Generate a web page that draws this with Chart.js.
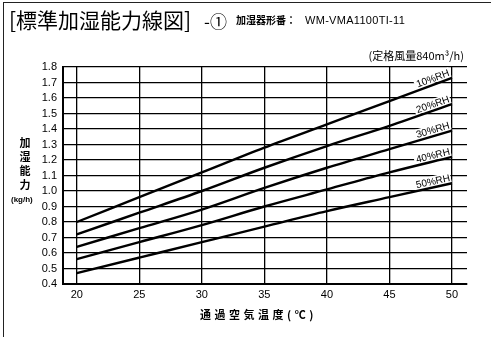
<!DOCTYPE html>
<html>
<head>
<meta charset="utf-8">
<script src="https://cdn.jsdelivr.net/npm/chart.js"></script>
<style>
  body { margin: 0; background: #fff; }
  #wrap { position: relative; width: 491px; height: 337px; overflow: hidden; font-family: "Noto Sans CJK JP", sans-serif; color: #000; }
  #frame { position: absolute; left: 3px; top: 2px; width: 500px; height: 400px; border-left: 1.5px solid #222; border-top: 1.5px solid #222; }
  canvas { position: absolute; left: 0; top: 0; }
  .t { position: absolute; white-space: nowrap; line-height: 1; }
</style>
</head>
<body>
<div id="wrap">
  <div id="frame"></div>
  <canvas id="mycanvas" width="491" height="337"></canvas>
  <div class="t" style="left:9px;top:9px;font-size:21px;">[標準加湿能力線図]</div>
  <div class="t" style="left:204px;top:12px;font-size:17px;">-①</div>
  <div class="t" style="left:236px;top:15px;font-size:10px;font-weight:bold;">加湿器形番：</div>
  <div class="t" style="left:305px;top:15px;font-size:11px;font-family:'Liberation Sans Narrow','Liberation Sans',sans-serif;letter-spacing:0.3px;">WM-VMA1100TI-11</div>
  <div class="t" style="right:27px;top:50px;font-size:11px;">(定格風量840m³/h)</div>
  <div class="t" style="left:18px;top:135px;font-size:11px;font-weight:bold;text-align:center;width:14px;line-height:14px;">加<br>湿<br>能<br>力</div>
  <div class="t" style="left:11px;top:196px;font-size:8px;font-weight:bold;font-family:'Liberation Sans',sans-serif;">(kg/h)</div>
  <div class="t" style="left:200px;top:309px;font-size:11px;font-weight:bold;letter-spacing:3.5px;">通過空気温度(℃)</div>
</div>
<script>
var temps = [20, 25, 30, 35, 40, 45, 50];
var rh10 = [0.80, 0.96, 1.12, 1.28, 1.43, 1.58, 1.73];
var rh20 = [0.72, 0.86, 1.00, 1.15, 1.29, 1.42, 1.56];
var rh30 = [0.64, 0.76, 0.88, 1.02, 1.15, 1.27, 1.39];
var rh40 = [0.56, 0.67, 0.78, 0.90, 1.01, 1.12, 1.22];
var rh50 = [0.47, 0.57, 0.67, 0.77, 0.87, 0.96, 1.05];
var seriesLabels = ['10%RH', '20%RH', '30%RH', '40%RH', '50%RH'];
var xTicks = [20, 25, 30, 35, 40, 45, 50];

function pts(ys) {
  var out = [];
  for (var i = 0; i < temps.length; i++) out.push({x: temps[i], y: ys[i]});
  return out;
}

var allSeries = [rh10, rh20, rh30, rh40, rh50];
var datasets = [];
for (var s = 0; s < allSeries.length; s++) {
  datasets.push({
    label: seriesLabels[s],
    data: pts(allSeries[s]),
    borderColor: '#000',
    borderWidth: 2.4,
    pointRadius: 0,
    cubicInterpolationMode: 'monotone',
    fill: false
  });
}

// label geometry: sits just above the end of each line, tilted with it
function labelPos(chart, i) {
  var meta = chart.getDatasetMeta(i);
  var n = meta.data.length;
  var p = meta.data[n - 1], q = meta.data[n - 2];
  var ang = Math.atan2(p.y - q.y, p.x - q.x);
  return {x: p.x, y: p.y, ang: ang};
}

var endLabels = {
  id: 'endLabels',
  beforeDatasetsDraw: function(chart) {
    var ctx = chart.ctx;
    ctx.save();
    ctx.font = '10px "Liberation Sans Narrow", "Liberation Sans", sans-serif';
    chart.data.datasets.forEach(function(ds, i) {
      var lp = labelPos(chart, i);
      var w = ctx.measureText(ds.label).width;
      ctx.save();
      ctx.translate(lp.x - 1, lp.y);
      ctx.rotate(lp.ang);
      ctx.fillStyle = '#fff';
      ctx.fillRect(-w - 2, -11, w + 3, 10);
      ctx.restore();
    });
    ctx.restore();
  },
  afterDatasetsDraw: function(chart) {
    var ctx = chart.ctx;
    ctx.save();
    ctx.font = '10px "Liberation Sans Narrow", "Liberation Sans", sans-serif';
    ctx.textAlign = 'right';
    ctx.textBaseline = 'alphabetic';
    chart.data.datasets.forEach(function(ds, i) {
      var lp = labelPos(chart, i);
      ctx.save();
      ctx.translate(lp.x - 1, lp.y);
      ctx.rotate(lp.ang);
      ctx.fillStyle = '#000';
      ctx.fillText(ds.label, 0, -2.5);
      ctx.restore();
    });
    ctx.restore();
  }
};

var ctx = document.getElementById('mycanvas');
var chart = new Chart(ctx, {
  type: 'line',
  data: { datasets: datasets },
  plugins: [endLabels],
  options: {
    responsive: false,
    animation: false,
    layout: { padding: { top: 67, right: 24, left: 0, bottom: 0 } },
    plugins: { legend: { display: false }, tooltip: { enabled: false } },
    scales: {
      x: {
        type: 'linear',
        min: 18.9,
        max: 51.2,
        afterBuildTicks: function(scale) {
          scale.ticks = xTicks.map(function(v) { return {value: v}; });
        },
        afterFit: function(scale) { scale.height = 53; },
        grid: { color: '#000', lineWidth: 1.3, drawTicks: false },
        border: { color: '#000', width: 2 },
        ticks: {
          color: '#000',
          padding: 4,
          maxRotation: 0,
          autoSkip: false,
          font: { family: '"Liberation Sans", sans-serif', size: 11 }
        }
      },
      y: {
        min: 0.4,
        max: 1.8,
        afterFit: function(scale) { scale.width = 63; },
        grid: { color: '#000', lineWidth: 1.3, drawTicks: false },
        border: { color: '#000', width: 2 },
        ticks: {
          stepSize: 0.1,
          autoSkip: false,
          color: '#000',
          padding: 6,
          font: { family: '"Liberation Sans Narrow", "Liberation Sans", sans-serif', size: 11 },
          callback: function(v) { return Number(v).toFixed(1); }
        }
      }
    }
  }
});
</script>
</body>
</html>
